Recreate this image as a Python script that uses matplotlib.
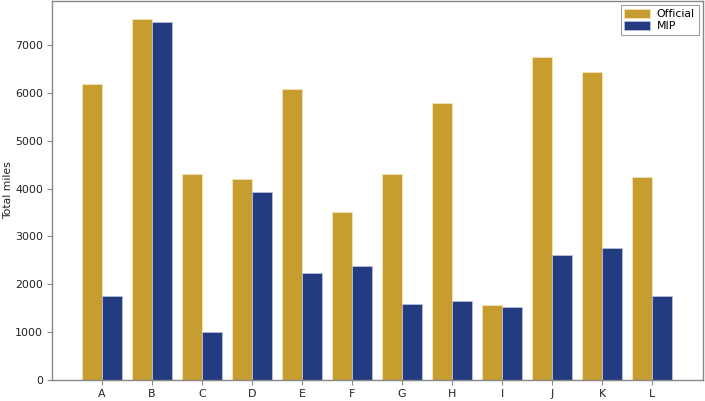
import numpy as np
import matplotlib
matplotlib.use('Agg')
import matplotlib.pyplot as plt

plt.rcParams['font.family'] = ['DejaVu Sans']

# data
categories = ['A', 'B', 'C', 'D', 'E', 'F', 'G', 'H', 'I', 'J', 'K', 'L']
official = [6190, 7540, 4310, 4190, 6080, 3515, 4300, 5790, 1570, 6750, 6445, 4240]
mip = [1757, 7475, 1012, 3920, 2238, 2372, 1590, 1660, 1535, 2602, 2761, 1757]

gold = '#C79D30'
navy = '#233B80'

fig = plt.figure(figsize=(7.05, 4.01), dpi=100)
ax = fig.add_axes([52/705, 21/401, 651/705, 379/401])

x = np.arange(len(categories))
w = 0.4
ax.bar(x - w/2, official, w, color=gold, edgecolor='#F3E3B5', linewidth=0.6, label='Official')
ax.bar(x + w/2, mip, w, color=navy, edgecolor='#B8C0DA', linewidth=0.6, label='MIP')

ax.set_xlim(-1.0, 12.02)
ax.set_ylim(0, 7920)
ax.set_xticks(x)
ax.set_xticklabels(categories)
ax.set_yticks(np.arange(0, 8000, 1000))
ax.set_ylabel('Total miles', fontsize=7.8, color='#222222')
ax.yaxis.set_label_coords(-39/651, 0.5)

for s in ax.spines.values():
    s.set_color('#888888')
    s.set_linewidth(1.0)
ax.tick_params(axis='both', labelsize=7.9, colors='#222222', length=3.5, width=0.8, pad=3)
ax.tick_params(axis='both', color='#888888')

leg = ax.legend(loc='upper right', fontsize=7.8, frameon=True, fancybox=False,
                borderaxespad=0.4, handlelength=2.4, handleheight=0.8,
                labelspacing=0.2, handletextpad=0.6, borderpad=0.35)
leg.get_frame().set_edgecolor('#888888')
leg.get_frame().set_linewidth(0.8)

fig.savefig('out.png', dpi=100)
